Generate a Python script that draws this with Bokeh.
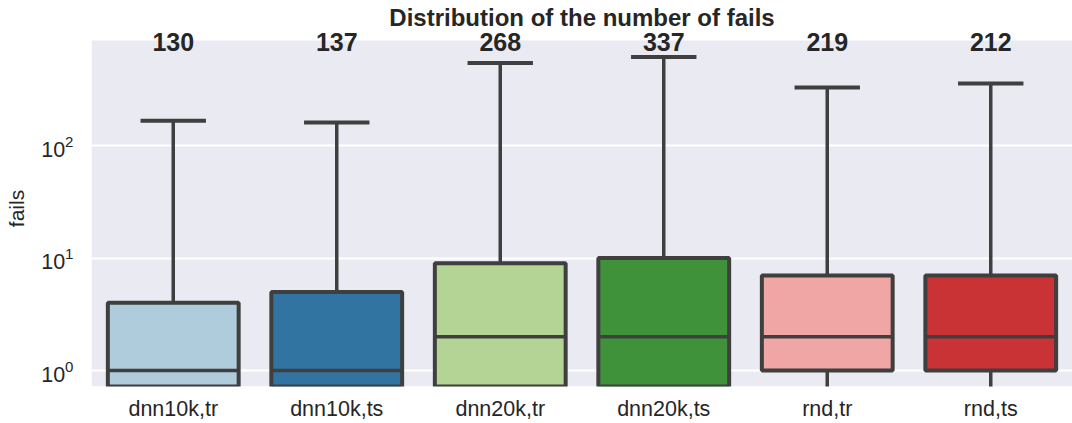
from bokeh.plotting import figure
from bokeh.models import Range1d, FactorRange, FixedTicker, ColumnDataSource, Label, BoxAnnotation
from bokeh.transform import dodge
from bokeh.embed import file_html
from bokeh.resources import INLINE

# ---- data ----
categories = ["dnn10k,tr", "dnn10k,ts", "dnn20k,tr", "dnn20k,ts", "rnd,tr", "rnd,ts"]
counts = [130, 137, 268, 337, 219, 212]
whisker_low = [0, 0, 0, 0, 0, 0]
q1 = [0, 0, 0, 0, 1, 1]
median = [1, 1, 2, 2, 2, 2]
q3 = [4, 5, 9, 10, 7, 7]
whisker_high = [166, 160, 541, 611, 328, 356]
colors = ["#aeccdb", "#3274a1", "#b3d495", "#40923a", "#efa6a5", "#ca3335"]

# ---- style ----
Y_START = 0.722     # bottom of the axes
AX_TOP = 859        # top of the grey axes area
Y_END = 1053        # a little head-room above it for the count labels
FLOOR = Y_START * 0.3          # stand-in for 0 on a log axis (clipped away)
LABEL_Y = 824                  # where the count labels sit (data units)
FONT = "Liberation Sans"
EDGE = "#3f3f3f"
TXT = "#262626"
BG = "#eaeaf2"


def pos(v):
    return v if v > 0 else FLOOR


src = ColumnDataSource(dict(
    cat=categories,
    lo=[pos(v) for v in whisker_low],
    q1=[pos(v) for v in q1],
    med=median,
    q3=q3,
    hi=whisker_high,
    color=colors,
))

xr = FactorRange(*categories)
p = figure(width=1072, height=423, x_range=xr,
           y_range=Range1d(Y_START, Y_END), y_axis_type="log",
           output_backend="svg", toolbar_location=None,
           min_border_left=91, min_border_right=0, min_border_top=30, min_border_bottom=35)

p.title.text = "Distribution of the number of fails"
p.title.align = "center"
p.title.text_font = FONT
p.title.text_font_size = "24px"
p.title.text_font_style = "bold"
p.title.text_color = TXT
p.title.standoff = 0

p.background_fill_color = "white"
p.border_fill_color = "white"
p.outline_line_color = None
p.add_layout(BoxAnnotation(top=AX_TOP, fill_color=BG, fill_alpha=1.0,
                           line_color=None, level="image"))
p.xgrid.grid_line_color = None
p.ygrid.ticker = FixedTicker(ticks=[1, 10, 100])
p.ygrid.grid_line_color = "white"
p.ygrid.grid_line_width = 2
p.yaxis.ticker = FixedTicker(ticks=[1, 10, 100])

for ax in (p.xaxis[0], p.yaxis[0]):
    ax.axis_line_color = None
    ax.major_tick_line_color = None
    ax.minor_tick_line_color = None
    ax.major_label_text_font = FONT
    ax.major_label_text_font_size = "21.5px"
    ax.major_label_text_color = TXT
    ax.axis_label_text_font = FONT
    ax.axis_label_text_font_size = "21px"
    ax.axis_label_text_font_style = "normal"
    ax.axis_label_text_color = TXT

p.xaxis.major_label_standoff = 4
p.yaxis.major_label_standoff = 12
p.yaxis.axis_label = "fails"
p.yaxis.axis_label_standoff = 10

# whiskers
p.segment(x0="cat", y0="q3", x1="cat", y1="hi", source=src, line_color=EDGE, line_width=3.5)
p.segment(x0="cat", y0="lo", x1="cat", y1="q1", source=src, line_color=EDGE, line_width=3.5)
# caps
p.segment(x0=dodge("cat", -0.2, range=xr), y0="hi",
          x1=dodge("cat", 0.2, range=xr), y1="hi",
          source=src, line_color=EDGE, line_width=4)
p.segment(x0=dodge("cat", -0.2, range=xr), y0="lo",
          x1=dodge("cat", 0.2, range=xr), y1="lo",
          source=src, line_color=EDGE, line_width=4)
# boxes
p.vbar(x="cat", width=0.8, bottom="q1", top="q3", source=src,
       fill_color="color", line_color=EDGE, line_width=4)
# medians
p.segment(x0=dodge("cat", -0.4, range=xr), y0="med",
          x1=dodge("cat", 0.4, range=xr), y1="med",
          source=src, line_color=EDGE, line_width=3.5)

# count labels above each box (x in the factor range's synthetic coordinates)
for cat, n in zip(categories, counts):
    lab = Label(x=categories.index(cat) + 0.5, y=LABEL_Y, text=str(n),
                text_align="center", text_baseline="alphabetic",
                text_font=FONT, text_font_size="25px", text_font_style="bold",
                text_color=TXT)
    p.add_layout(lab)

open("out.html", "w").write(file_html(p, INLINE))
